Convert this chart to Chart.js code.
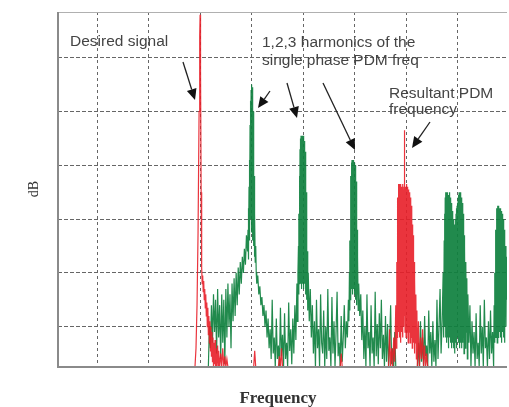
<!DOCTYPE html>
<html><head><meta charset="utf-8">
<script src="https://cdn.jsdelivr.net/npm/chart.js@4/dist/chart.umd.min.js"></script>
<style>html,body{margin:0;padding:0;background:#fff}canvas{display:block}</style>
</head><body>
<canvas id="c" width="509" height="407"></canvas>
<script>
// Grid tick values (frequency units and dB) — no labels shown in the reference
const xGrid = [50,100,150,200,250,300,350,400];
const yGrid = [-120,-100,-80,-60,-40,-20];
const xRange = [12, 448];
const yRange = [-135, -3];

// Red trace: desired signal + resultant PDM frequency cluster ([freq, dB], null dB = gap)
const redSpectrum = [
[145,-135],[146,-128],[147,-112],[148,-85],[149,-40],[149.6,-12],[150,-4],[150.4,-25],[151,-70],[151.5,-98],[152,-104],[152.5,-101],[153,-107],[153.5,-103],[154,-110],[154.5,-106],[155,-113],[155.5,-108],[156,-116],[156.5,-111],[157,-120],[157.5,-113],[158,-123],[158.5,-116],[159,-126],[159.5,-118],[160,-129],[160.5,-120],[161,-131],[161.5,-122],[162,-133],[162.5,-124],[163,-135],[163.5,-126],[164,-134],[164.5,-125],[165,-135],[165.5,-128],[166,-135],[167,-127],[167.5,-135],[168,-129],[169,-135],[170,-130],[171,-135],[172,-128],[173,-135],[174,-131],[175,-135],[176,-132],[177,-135],[178,null],
[202,-135],[203,-129],[204,-135],[205,null],
[226,-135],[227,-131],[228,-135],[229,-128],[230,-135],[231,null],
[286,-135],[287,-130],[288,-135],[289,null],
[333,-135],[334,-121],[335,-135],[336,-128],[337,-135],[338,-124],[339,-133],[340,-112],[340.5,-128],[341,-96],[341.25,-124],[341.5,-82],[341.75,-120],[342,-72],[342.25,-118],[342.5,-68],[342.75,-122],[343,-67],[343.25,-116],[343.5,-70],[343.75,-124],[344,-67],[344.25,-118],[344.5,-69],[344.75,-126],[345,-67],[345.25,-116],[345.5,-70],[345.75,-122],[346,-68],[346.25,-118],[346.5,-71],[346.75,-124],[347,-67],[347.25,-116],[347.5,-69],[347.75,-120],[348,-68],[348.25,-47],[348.5,-116],[348.75,-70],[349,-122],[349.25,-68],[349.5,-118],[349.75,-71],[350,-124],[350.25,-67],[350.5,-116],[350.75,-70],[351,-122],[351.25,-68],[351.5,-118],[351.75,-72],[352,-126],[352.25,-69],[352.5,-116],[352.75,-73],[353,-122],[353.25,-70],[353.5,-120],[353.75,-74],[354,-126],[354.25,-72],[354.5,-118],[354.75,-76],[355,-124],[355.25,-75],[355.5,-120],[355.75,-80],[356,-128],[356.25,-82],[356.5,-118],[356.75,-86],[357,-126],[357.25,-90],[357.5,-122],[357.75,-96],[358,-130],[358.5,-102],[359,-126],[359.5,-108],[360,-132],[360.5,-114],[361,-135],[362,-118],[363,-135],[364,-124],[365,-132],[366,-121],[367,-135],[368,-127],[369,-135],[370,-130],[371,-135],[372,null]
];

// Green trace: single phase PDM harmonics
const greenSpectrum = [
[158,-135],[159,-120],[160,-128],[161,-112],[162,-126],[163,-108],[164,-122],[165,-110],[166,-130],[167,-106],[168,-124],[169,-112],[170,-132],[171,-108],[172,-126],[173,-110],[174,-134],[175,-106],[176,-124],[177,-104],[178,-120],[179,-108],[180,-128],[181,-104],[182,-118],[183,-102],[184,-116],[185,-100],[186,-112],[187,-98],[188,-108],[189,-96],[190,-104],[191,-94],[192,-100],[193,-91],[194,-97],[195,-86],[196,-92],[196.5,-84],[196.75,-95],[197,-76],[197.25,-92],[197.5,-68],[197.75,-88],[198,-58],[198.25,-85],[198.5,-45],[198.75,-80],[199,-36],[199.25,-78],[199.5,-32],[199.75,-85],[200,-30],[200.25,-82],[200.5,-31],[200.75,-88],[201,-34],[201.25,-84],[201.5,-40],[201.75,-90],[202,-52],[202.25,-88],[202.5,-64],[202.75,-94],[203,-78],[203.5,-96],[204,-90],[204.5,-100],[205,-104],[206,-101],[207,-108],[208,-105],[209,-112],[210,-109],[211,-116],[212,-112],[213,-120],[214,-114],[215,-124],[216,-117],[217,-128],[218,-121],[219,-132],[220,-110],[221,-130],[222,-124],[223,-135],[224,-117],[225,-132],[226,-127],[227,-135],[228,-113],[229,-131],[230,-123],[231,-135],[232,-115],[233,-132],[234,-126],[235,-135],[236,-111],[237,-129],[238,-121],[239,-134],[240,-117],[241,-130],[242,-112],[243,-125],[244,-104],[244.5,-118],[245,-100],[245.5,-90],[245.75,-108],[246,-78],[246.25,-104],[246.5,-64],[246.75,-100],[247,-54],[247.25,-104],[247.5,-50],[247.75,-100],[248,-49],[248.25,-106],[248.5,-49],[248.75,-98],[249,-50],[249.25,-104],[249.5,-49],[249.75,-100],[250,-50],[250.25,-106],[250.5,-49],[250.75,-98],[251,-51],[251.25,-104],[251.5,-52],[251.75,-100],[252,-55],[252.25,-108],[252.5,-60],[252.75,-104],[253,-70],[253.25,-110],[253.5,-82],[253.75,-108],[254,-92],[254.5,-114],[255,-100],[256,-118],[257,-106],[258,-124],[259,-112],[260,-130],[261,-118],[262,-135],[263,-110],[264,-128],[265,-121],[266,-135],[267,-108],[268,-126],[269,-130],[270,-114],[271,-135],[272,-120],[273,-132],[274,-106],[275,-129],[276,-124],[277,-135],[278,-109],[279,-130],[280,-118],[281,-135],[282,-122],[283,-107],[284,-131],[285,-126],[286,-135],[287,-116],[288,-133],[289,-124],[290,-112],[291,-128],[292,-118],[293,-124],[294,-110],[294.5,-118],[295,-100],[295.25,-114],[295.5,-88],[295.75,-110],[296,-74],[296.25,-108],[296.5,-64],[296.75,-104],[297,-59],[297.25,-106],[297.5,-58],[297.75,-100],[298,-58],[298.25,-108],[298.5,-59],[298.75,-100],[299,-58],[299.25,-106],[299.5,-60],[299.75,-102],[300,-59],[300.25,-108],[300.5,-60],[300.75,-104],[301,-62],[301.25,-110],[301.5,-66],[301.75,-104],[302,-74],[302.25,-112],[302.5,-84],[302.75,-108],[303,-94],[303.5,-114],[304,-104],[305,-116],[306,-108],[307,-125],[308,-114],[309,-132],[310,-120],[311,-135],[312,-108],[313,-128],[314,-122],[315,-135],[316,-112],[317,-130],[318,-124],[319,-135],[320,-107],[321,-131],[322,-119],[323,-134],[324,-115],[325,-128],[326,-110],[327,-132],[328,-123],[329,-135],[330,-116],[331,-133],[332,-119],[333,-135],[334,-126],[335,-112],[336,-134],[337,-128],[338,-135],[339,-122],[340,-135],[341,null],
[361,-135],[362,-126],[363,-135],[364,-118],[365,-133],[366,-124],[367,-135],[368,-116],[369,-131],[370,-127],[371,-135],[372,-114],[373,-130],[374,-122],[375,-135],[376,-118],[377,-133],[378,-125],[379,-135],[380,-110],[381,-132],[382,-120],[383,-106],[384,-130],[385,-118],[386,-100],[386.5,-124],[387,-88],[387.25,-120],[387.5,-78],[387.75,-118],[388,-72],[388.25,-124],[388.5,-70],[388.75,-116],[389,-71],[389.25,-126],[389.5,-70],[389.75,-118],[390,-72],[390.25,-124],[390.5,-70],[390.75,-116],[391,-73],[391.25,-128],[391.5,-71],[391.75,-118],[392,-70],[392.25,-124],[392.5,-72],[392.75,-114],[393,-74],[393.25,-126],[393.5,-72],[393.75,-118],[394,-75],[394.25,-128],[394.5,-74],[394.75,-116],[395,-77],[395.25,-126],[395.5,-78],[395.75,-118],[396,-80],[396.25,-128],[396.5,-82],[396.75,-116],[397,-84],[397.25,-130],[397.5,-82],[397.75,-118],[398,-80],[398.25,-126],[398.5,-78],[398.75,-116],[399,-76],[399.25,-128],[399.5,-75],[399.75,-118],[400,-74],[400.25,-124],[400.5,-72],[400.75,-114],[401,-71],[401.25,-126],[401.5,-70],[401.75,-118],[402,-70],[402.25,-128],[402.5,-71],[402.75,-116],[403,-70],[403.25,-126],[403.5,-72],[403.75,-118],[404,-73],[404.25,-128],[404.5,-74],[404.75,-116],[405,-76],[405.25,-126],[405.5,-78],[405.75,-118],[406,-82],[406.25,-130],[406.5,-86],[406.75,-120],[407,-90],[407.5,-128],[408,-96],[408.5,-122],[409,-102],[409.5,-132],[410,-108],[411,-126],[412,-112],[413,-135],[414,-118],[415,-130],[416,-122],[417,-135],[418,-115],[419,-132],[420,-126],[421,-135],[422,-112],[423,-130],[424,-120],[425,-135],[426,-110],[427,-128],[428,-124],[429,-135],[430,-118],[431,-132],[432,-114],[433,-130],[434,-122],[435,-135],[435.5,-112],[436,-126],[436.25,-100],[436.5,-124],[436.75,-92],[437,-120],[437.25,-84],[437.5,-124],[437.75,-78],[438,-118],[438.25,-76],[438.5,-126],[438.75,-75],[439,-116],[439.25,-76],[439.5,-124],[439.75,-75],[440,-114],[440.25,-77],[440.5,-122],[440.75,-76],[441,-112],[441.25,-78],[441.5,-124],[441.75,-76],[442,-116],[442.25,-79],[442.5,-126],[442.75,-77],[443,-114],[443.25,-80],[443.5,-122],[443.75,-78],[444,-112],[444.25,-82],[444.5,-124],[444.75,-80],[445,-116],[445.25,-84],[445.5,-126],[445.75,-86],[446,-114],[446.5,-90],[447,-120],[447.5,-94],[448,-110]
];

// Annotation texts
const notes = [
  {text:'Desired signal', px:70, py:46},
  {text:'1,2,3 harmonics of the', px:262, py:47},
  {text:'single phase PDM freq', px:262, py:65},
  {text:'Resultant PDM', px:389, py:98},
  {text:'frequency', px:389, py:114}
];
// Arrows: tail -> tip (pixel layout)
const arrows = [
  [183,62,195,100],[270,91,258,108],[287,83,297,118],[323,83,355,150],[430,122,412,148]
];

const toXY = arr => arr.map(p => ({x:p[0], y:p[1]}));

const decor = {
  id:'decor',
  afterDatasetsDraw(chart){
    const {ctx, chartArea:a} = chart;
    ctx.save();
    // frame
    ctx.strokeStyle = '#b0b0b0'; ctx.lineWidth = 1;
    ctx.beginPath(); ctx.moveTo(a.left, a.top+0.5); ctx.lineTo(a.right, a.top+0.5); ctx.stroke();
    ctx.strokeStyle = '#8a8a8a'; ctx.lineWidth = 2;
    ctx.beginPath(); ctx.moveTo(a.left, a.top); ctx.lineTo(a.left, a.bottom); ctx.lineTo(a.right, a.bottom); ctx.stroke();
    // notes
    ctx.fillStyle = '#444';
    ctx.font = '15.5px "Liberation Sans", Arial, sans-serif';
    ctx.textBaseline = 'alphabetic'; ctx.textAlign = 'left';
    notes.forEach(n => ctx.fillText(n.text, n.px, n.py));
    // arrows
    ctx.strokeStyle = '#222'; ctx.fillStyle = '#111'; ctx.lineWidth = 1.3;
    arrows.forEach(([x1,y1,x2,y2]) => {
      const ang = Math.atan2(y2-y1, x2-x1), L = 11, W = 5;
      const bx = x2 - L*Math.cos(ang), by = y2 - L*Math.sin(ang);
      ctx.beginPath(); ctx.moveTo(x1,y1); ctx.lineTo(bx,by); ctx.stroke();
      ctx.beginPath(); ctx.moveTo(x2,y2);
      ctx.lineTo(bx + W*Math.sin(ang), by - W*Math.cos(ang));
      ctx.lineTo(bx - W*Math.sin(ang), by + W*Math.cos(ang));
      ctx.closePath(); ctx.fill();
    });
    // axis titles
    ctx.fillStyle = '#333';
    ctx.font = '14px "Liberation Serif", "Times New Roman", serif';
    ctx.save(); ctx.translate(34, 189); ctx.rotate(-Math.PI/2);
    ctx.textAlign = 'center'; ctx.textBaseline = 'middle'; ctx.fillText('dB', 0, 0); ctx.restore();
    ctx.font = 'bold 17px "Liberation Serif", "Times New Roman", serif';
    ctx.textAlign = 'center'; ctx.textBaseline = 'alphabetic';
    ctx.fillText('Frequency', 278, 403);
    ctx.restore();
  }
};

const gridOpts = {color:'#666', lineWidth:1, drawTicks:false};
new Chart(document.getElementById('c'), {
  type:'line',
  data:{datasets:[
    {label:'PDM resultant', data:toXY(redSpectrum), borderColor:'rgba(232,30,40,0.9)', borderWidth:1.2, pointRadius:0, tension:0, spanGaps:false},
    {label:'Harmonics', data:toXY(greenSpectrum), borderColor:'rgba(14,128,62,0.92)', borderWidth:1.2, pointRadius:0, tension:0, spanGaps:false}
  ]},
  options:{
    responsive:false, animation:false, devicePixelRatio:1,
    layout:{padding:{left:58, top:12, right:2, bottom:40}},
    plugins:{legend:{display:false}, tooltip:{enabled:false}},
    scales:{
      x:{type:'linear', min:xRange[0], max:xRange[1], ticks:{display:false},
         grid:gridOpts, border:{display:false, dash:[3,3]},
         afterBuildTicks:s => { s.ticks = xGrid.map(v => ({value:v})); }},
      y:{type:'linear', min:yRange[0], max:yRange[1], ticks:{display:false},
         grid:gridOpts, border:{display:false, dash:[4,2]},
         afterBuildTicks:s => { s.ticks = yGrid.map(v => ({value:v})); }}
    }
  },
  plugins:[decor]
});
</script>
</body></html>
